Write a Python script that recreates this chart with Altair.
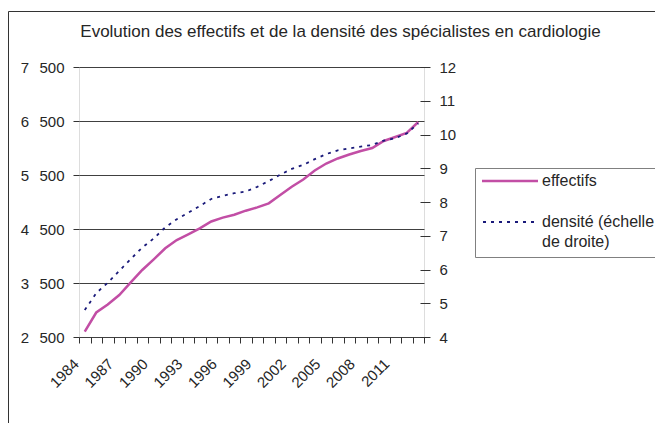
import altair as alt
import pandas as pd

years = list(range(1984, 2014))
effectifs = [2600, 2954, 3102, 3278, 3511, 3741, 3938, 4142, 4296, 4402,
             4513, 4640, 4710, 4765, 4839, 4900, 4975, 5130, 5283, 5417,
             5583, 5713, 5806, 5880, 5944, 6000, 6130, 6204, 6278, 6481]
densite = [4.80, 5.30, 5.61, 5.96, 6.31, 6.65, 6.92, 7.25, 7.49, 7.68,
           7.88, 8.09, 8.18, 8.26, 8.31, 8.45, 8.62, 8.81, 8.98, 9.10,
           9.27, 9.42, 9.53, 9.59, 9.64, 9.69, 9.82, 9.89, 10.03, 10.33]
left_ticks = [2500, 3500, 4500, 5500, 6500, 7500]
right_ticks = [4, 5, 6, 7, 8, 9, 10, 11, 12]

title_text = "Evolution des effectifs et de la densité des spécialistes en cardiologie"
leg1 = "effectifs"
leg2a = "densité (échelle"
leg2b = "de droite)"

PINK = "#C24EA5"
NAVY = "#1a1a7a"
FONT = "Liberation Sans"
TXT = "#262626"
SEP = "\u2002\u2009"

df = pd.DataFrame({"annee": years, "effectifs": effectifs, "densite": densite})

xenc = alt.X(
    "annee:O",
    scale=alt.Scale(type="band", paddingInner=0, paddingOuter=0),
    bandPosition=0.5,
    axis=alt.Axis(
        title=None, tickBand="extent", tickSize=6, tickColor="#333", domain=False,
        labelExpr="(datum.value - 1984) % 3 == 0 ? datum.label : ''",
        labelAngle=-45, labelAlign="right", labelBaseline="middle",
        labelOverlap=False, labelFontSize=15, labelFont=FONT, labelColor=TXT,
        labelPadding=18, labelOffset=-9, grid=False,
    ),
)

eff = alt.Chart(df).mark_line(color=PINK, strokeWidth=2.5).encode(
    x=xenc,
    y=alt.Y(
        "effectifs:Q",
        scale=alt.Scale(domain=[2500, 7500], nice=False, zero=False),
        axis=alt.Axis(
            orient="left", values=left_ticks, title=None, grid=True,
            gridColor="#404040", gridWidth=1, tickSize=6, tickColor="#333",
            domain=False, labelPadding=9, labelFontSize=15, labelFont=FONT,
            labelColor=TXT,
            labelExpr="replace(format(datum.value, ','), ',', '" + SEP + "')",
        ),
    ),
)

dens = alt.Chart(df).mark_line(color=NAVY, strokeWidth=1.8, strokeDash=[3, 5]).encode(
    x=xenc,
    y=alt.Y(
        "densite:Q",
        scale=alt.Scale(domain=[4, 12], nice=False, zero=False),
        axis=alt.Axis(
            orient="right", values=right_ticks, title=None, grid=False,
            tickSize=10, offset=-4, tickColor="#333", domain=False,
            labelPadding=9, labelFontSize=15, labelFont=FONT, labelColor=TXT,
        ),
    ),
)

one = alt.Data(values=[{}])

title_mark = alt.Chart(one).mark_text(
    font=FONT, fontSize=17, color=TXT, align="center", baseline="alphabetic"
).encode(x=alt.value(261.5), y=alt.value(-30), text=alt.value(title_text))

border_top = alt.Chart(one).mark_rule(color="#333", strokeWidth=1).encode(
    x=alt.value(-70.5), x2=alt.value(600), y=alt.value(-55.5))
border_left = alt.Chart(one).mark_rule(color="#333", strokeWidth=1).encode(
    x=alt.value(-70.5), y=alt.value(-55.5), y2=alt.value(400))

leg_box = alt.Chart(one).mark_rect(fill="white", stroke="#808080", strokeWidth=1).encode(
    x=alt.value(396.5), x2=alt.value(640), y=alt.value(101.5), y2=alt.value(190.5))
leg_l1 = alt.Chart(one).mark_rule(color=PINK, strokeWidth=2.5).encode(
    x=alt.value(403), x2=alt.value(459), y=alt.value(114))
leg_l2 = alt.Chart(one).mark_rule(color=NAVY, strokeWidth=1.8, strokeDash=[3, 5]).encode(
    x=alt.value(404), x2=alt.value(457), y=alt.value(155))
leg_t1 = alt.Chart(one).mark_text(font=FONT, fontSize=16, color=TXT, align="left", baseline="middle").encode(
    x=alt.value(463), y=alt.value(114), text=alt.value(leg1))
leg_t2 = alt.Chart(one).mark_text(font=FONT, fontSize=16, color=TXT, align="left", baseline="middle").encode(
    x=alt.value(463), y=alt.value(155), text=alt.value(leg2a))
leg_t3 = alt.Chart(one).mark_text(font=FONT, fontSize=16, color=TXT, align="left", baseline="middle").encode(
    x=alt.value(463), y=alt.value(175), text=alt.value(leg2b))

chart = alt.layer(
    eff, dens, title_mark, border_top, border_left,
    leg_box, leg_l1, leg_l2, leg_t1, leg_t2, leg_t3,
).resolve_scale(y="independent").properties(
    width=345, height=270,
    autosize=alt.AutoSizeParams(type="none"),
    padding={"left": 71, "top": 59, "right": 231, "bottom": 86},
).configure_view(stroke="#222", strokeWidth=1).configure(background="white")

chart.save("out.html", embed_options={"renderer": "svg", "actions": False})
